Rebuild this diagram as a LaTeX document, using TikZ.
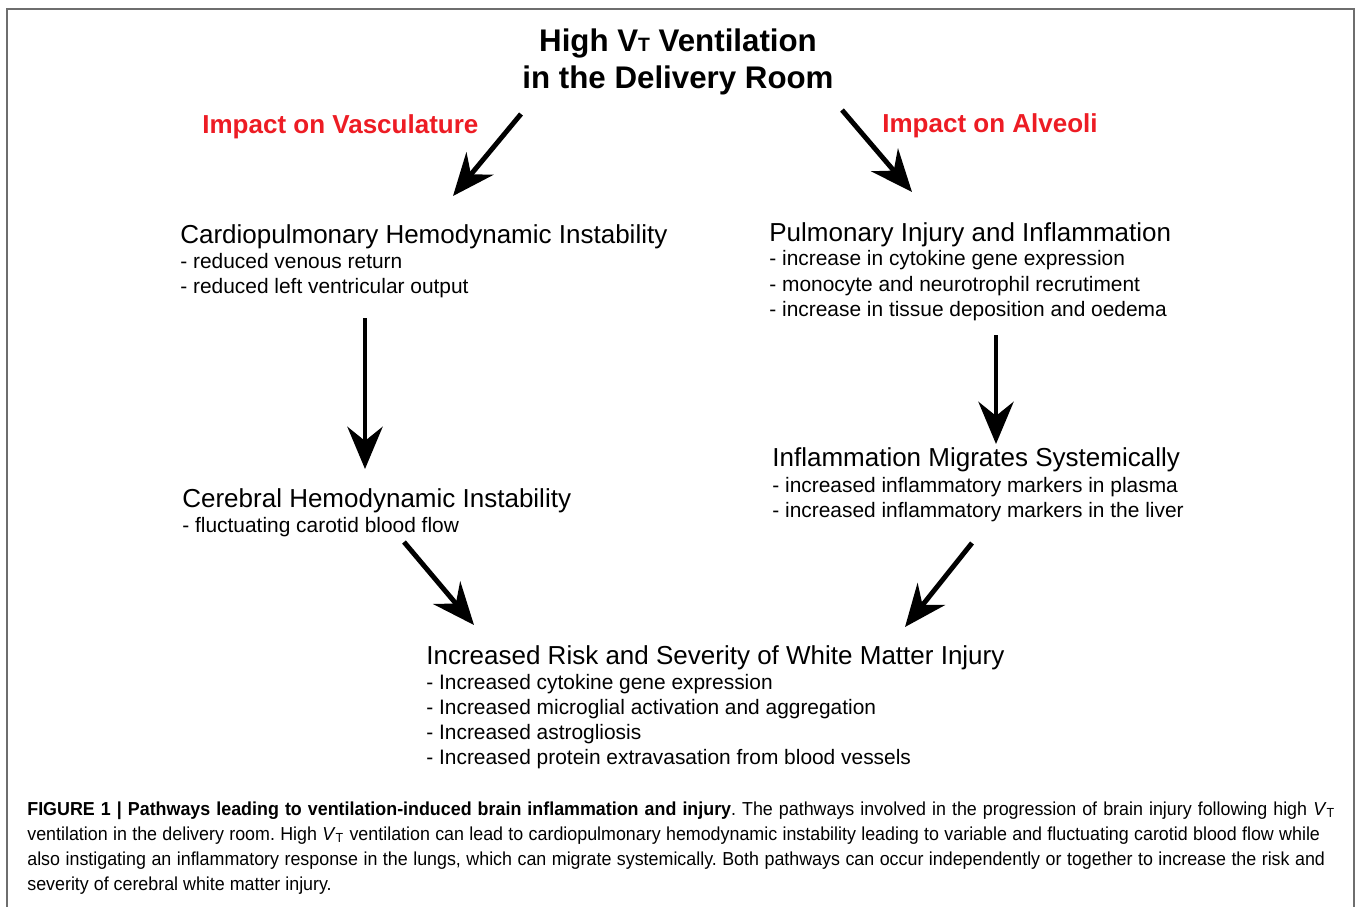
\documentclass[tikz,border=0pt]{standalone}
\usepackage{fontspec}
\setmainfont{Liberation Sans}
\newfontfamily\capfont[FakeStretch=0.95]{Liberation Sans}
\usetikzlibrary{arrows.meta}
\definecolor{impactred}{RGB}{237,28,36}
\definecolor{framegray}{RGB}{110,110,110}
\tikzset{
    title/.style = {align=center, inner sep=0pt, font=\bfseries\fontsize{17.8}{21}\selectfont},
    impact/.style = {anchor=base west, inner sep=0pt, text=impactred, font=\bfseries\fontsize{14.8}{17}\selectfont},
    heading/.style = {anchor=base west, inner sep=0pt, font=\fontsize{14.8}{17}\selectfont},
    item/.style = {anchor=base west, inner sep=0pt, font=\fontsize{11.9}{14}\selectfont},
    capline/.style = {anchor=base west, inner sep=0pt, font=\capfont\frenchspacing\fontsize{10.7}{14}\selectfont},
    flow/.style = {-{Stealth[length=24pt,width=20pt,inset=8pt]}, line width=2.8pt},
    frame/.style = {draw=framegray, line width=1.2pt}
}

\begin{document}
\begin{tikzpicture}[x=0.02cm,y=-0.02cm]
\useasboundingbox (0,0) rectangle (1355,906);
\draw[frame] (7,907) -- (7,9) -- (1354,9) -- (1354,907);
%
\node[title] (title) at (678,62) {High V{\fontsize{11}{11}\selectfont T} Ventilation\\in the Delivery Room};
\node[impact] (vasc) at (202,133) {Impact on Vasculature};
\node[impact] (alv) at (882,132) {Impact on Alveoli};
%
\node[heading] (cardio) at (180,243) {Cardiopulmonary Hemodynamic Instability};
\node[item] (cardio1) at (180,268) {- reduced venous return};
\node[item] (cardio2) at (180,293) {- reduced left ventricular output};
%
\node[heading] (pulm) at (769,241) {Pulmonary Injury and Inflammation};
\node[item] (pulm1) at (769,265) {- increase in cytokine gene expression};
\node[item] (pulm2) at (769,291) {- monocyte and neurotrophil recrutiment};
\node[item] (pulm3) at (769,316) {- increase in tissue deposition and oedema};
%
\node[heading] (cereb) at (182,507) {Cerebral Hemodynamic Instability};
\node[item] (cereb1) at (182,532) {- fluctuating carotid blood flow};
%
\node[heading] (migr) at (772,466) {Inflammation Migrates Systemically};
\node[item] (migr1) at (772,492) {- increased inflammatory markers in plasma};
\node[item] (migr2) at (772,517) {- increased inflammatory markers in the liver};
%
\node[heading] (wmi) at (426,664) {Increased Risk and Severity of White Matter Injury};
\node[item] (wmi1) at (426,689) {- Increased cytokine gene expression};
\node[item] (wmi2) at (426,714) {- Increased microglial activation and aggregation};
\node[item] (wmi3) at (426,739) {- Increased astrogliosis};
\node[item] (wmi4) at (426,764) {- Increased protein extravasation from blood vessels};
%
\coordinate (vascS) at (521,114);
\coordinate (vascE) at (453,196);
\coordinate (alvS) at (842,110);
\coordinate (alvE) at (912,192);
\coordinate (cardioS) at (365,318);
\coordinate (cardioE) at (365,469);
\coordinate (pulmS) at (996,335);
\coordinate (pulmE) at (996,444);
\coordinate (cerebS) at (404,542);
\coordinate (cerebE) at (474,625);
\coordinate (migrS) at (972,543);
\coordinate (migrE) at (905,627);
%
\draw[flow] (vascS) -- (vascE);
\draw[flow] (alvS) -- (alvE);
\draw[flow] (cardioS) -- (cardioE);
\draw[flow] (pulmS) -- (pulmE);
\draw[flow] (cerebS) -- (cerebE);
\draw[flow] (migrS) -- (migrE);
%
\node[capline] (cap1) at (27,815) {\makebox[26.16cm][s]{{\bfseries FIGURE 1 | Pathways leading to ventilation-induced brain inflammation and injury}. The pathways involved in the progression of brain injury following high \textit{V}\textsubscript{T}}};
\node[capline] (cap2) at (27,840) {\makebox[25.86cm][s]{ventilation in the delivery room. High \textit{V}\textsubscript{T} ventilation can lead to cardiopulmonary hemodynamic instability leading to variable and fluctuating carotid blood flow while}};
\node[capline] (cap3) at (27,865) {\makebox[25.96cm][s]{also instigating an inflammatory response in the lungs, which can migrate systemically. Both pathways can occur independently or together to increase the risk and}};
\node[capline] (cap4) at (27,890) {severity of cerebral white matter injury.};
\end{tikzpicture}
\end{document}
